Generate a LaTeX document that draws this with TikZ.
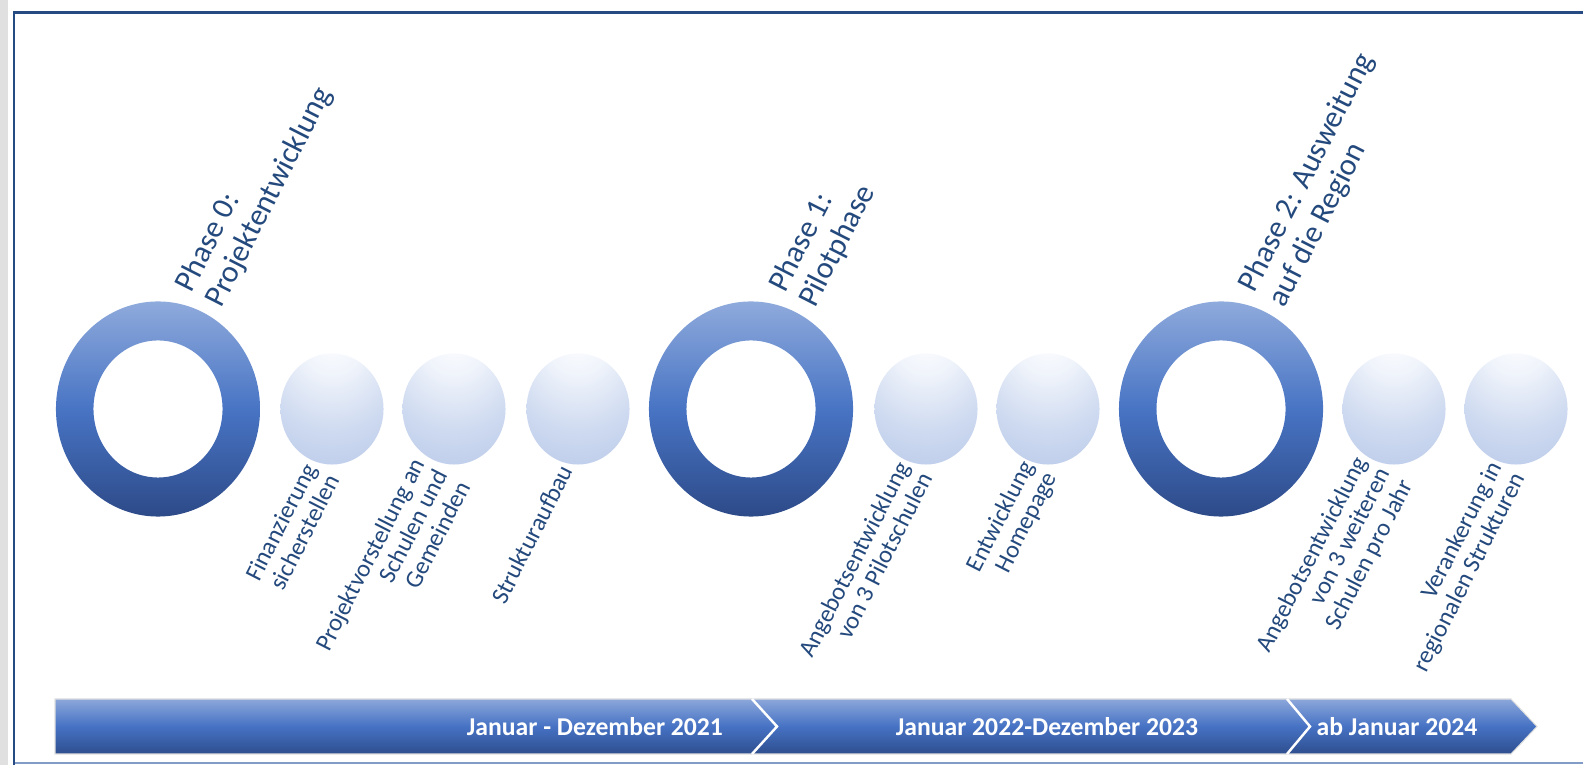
\documentclass[tikz,border=0pt]{standalone}
\usepackage{fontspec}
\setmainfont{Carlito}
\definecolor{txtblue}{RGB}{36,73,125}
\definecolor{frameblue}{RGB}{38,74,130}
\definecolor{framelight}{RGB}{130,156,200}
\definecolor{ringtop}{RGB}{143,170,220}
\definecolor{ringmid}{RGB}{72,116,196}
\definecolor{ringbot}{RGB}{45,74,136}
\definecolor{sphA}{RGB}{240,244,251}
\definecolor{sphB}{RGB}{206,218,240}
\definecolor{sphC}{RGB}{176,194,230}
\definecolor{sphD}{RGB}{150,173,220}
\definecolor{bartop}{RGB}{140,167,218}
\definecolor{barmid}{RGB}{70,114,196}
\definecolor{barbot}{RGB}{46,78,142}
\pgfdeclareradialshading{sphereshade}{\pgfpoint{0bp}{35bp}}{color(0bp)=(white); color(15bp)=(sphA); color(35bp)=(sphB); color(60bp)=(sphC); color(85bp)=(sphD); color(120bp)=(sphD)}
\tikzset{
  ringshade/.style={top color=ringtop, bottom color=ringbot, middle color=ringmid, even odd rule},
  sphere/.style={shading=sphereshade},
  lbl/.style={rotate=63, align=right, anchor=north east, inner sep=0pt, text=txtblue, font=\fontsize{7.0}{7.3}\selectfont},
  phaselbl/.style={rotate=63, align=left, anchor=south west, inner sep=0pt, text=txtblue, font=\fontsize{8.8}{9.6}\selectfont},
  bartxt/.style={inner sep=0pt, text=white, font=\fontsize{7.3}{8}\selectfont\bfseries},
  sep/.style={draw=white, line width=0.7pt}
}
\begin{document}
\begin{tikzpicture}[x=0.01cm,y=-0.01cm]
\useasboundingbox (0,0) rectangle (1583,765);
\fill[white] (0,0) rectangle (1583,765);
\fill[black!12] (0,0) rectangle (8,765);
% frame
\draw[framelight, line width=0.6pt] (14,763) -- (1583,763);
\draw[frameblue, line width=0.85pt] (1583,13) -- (14,13) -- (14,765);
% rings
\coordinate (r0) at (158,409);
\coordinate (r1) at (751,409);
\coordinate (r2) at (1221,409);
\foreach \r in {r0,r1,r2}{
  \shade[ringshade] (\r) ellipse [x radius=1.02cm, y radius=1.075cm] (\r) ellipse [x radius=0.645cm, y radius=0.685cm];
}
% spheres
\coordinate (s1) at (332,409);
\coordinate (s2) at (454,409);
\coordinate (s3) at (578,409);
\coordinate (s4) at (926,409);
\coordinate (s5) at (1048,409);
\coordinate (s6) at (1394,409);
\coordinate (s7) at (1516,409);
\foreach \s in {s1,s2,s3,s4,s5,s6,s7}{
  \shade[sphere] (\s) ellipse [x radius=0.515cm, y radius=0.555cm];
}
% phase labels
\node[phaselbl] (p0) at (227,312) {Phase 0:\\Projektentwicklung};
\node[phaselbl] (p1) at (820,312) {Phase 1:\\Pilotphase};
\node[phaselbl] (p2) at (1290,312) {Phase 2: Ausweitung\\auf die Region};
% item labels
\node[lbl] (t1) at (302,460) {Finanzierung\\sicherstellen};
\node[lbl] (t2) at (410,455) {Projektvorstellung an\\Schulen und\\Gemeinden};
\node[lbl] (t3) at (558,462) {Strukturaufbau};
\node[lbl] (t4) at (895,458) {Angebotsentwicklung\\von 3 Pilotschulen};
\node[lbl] (t5) at (1019,457) {Entwicklung\\Homepage};
\node[lbl] (t6) at (1352,453) {Angebotsentwicklung\\von 3 weiteren\\Schulen pro Jahr};
\node[lbl] (t7) at (1487,458) {Verankerung in\\regionalen Strukturen};
% time bar
\shade[top color=bartop, bottom color=barbot, middle color=barmid, draw=black!12, line width=0.3pt]
  (55,699) -- (1511,699) -- (1537,726.5) -- (1511,754) -- (55,754) -- cycle;
\coordinate (c1t) at (752,699);
\coordinate (c1m) at (777,726.5);
\coordinate (c1b) at (752,754);
\coordinate (c2t) at (1287,699);
\coordinate (c2m) at (1310,726.5);
\coordinate (c2b) at (1287,754);
\draw[sep] (c1t) -- (c1m) -- (c1b);
\draw[sep] (c2t) -- (c2m) -- (c2b);
\node[bartxt] (b1) at (595,726.5) {Januar - Dezember 2021};
\node[bartxt] (b2) at (1047,726.5) {Januar 2022-Dezember 2023};
\node[bartxt] (b3) at (1397,726.5) {ab Januar 2024};
\end{tikzpicture}
\end{document}
